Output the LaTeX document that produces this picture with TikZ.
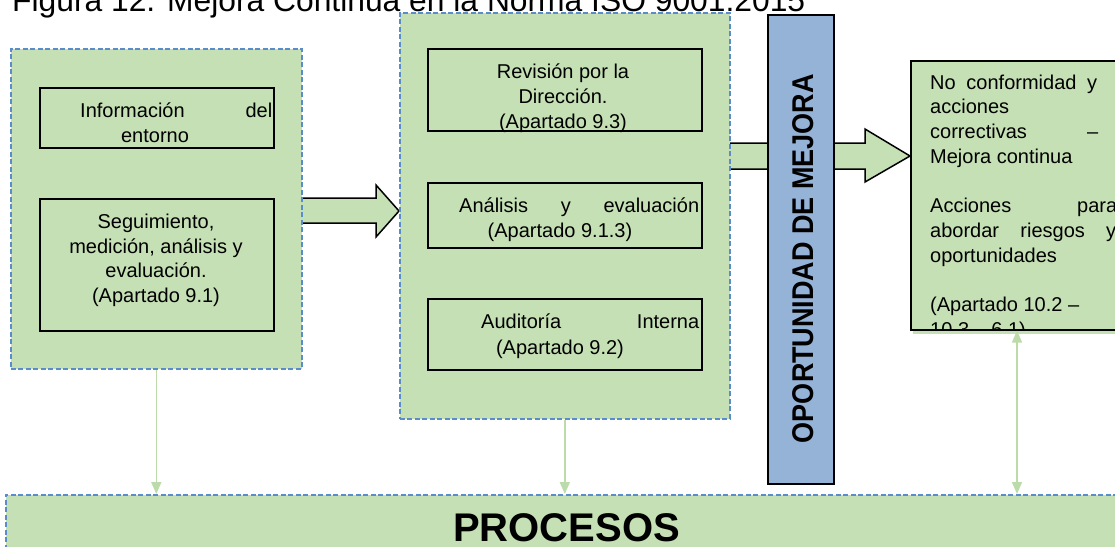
\documentclass[tikz,border=0pt]{standalone}
\usepackage{fontspec}
\usepackage{graphicx}
\setmainfont{Liberation Sans}
\usetikzlibrary{arrows.meta,calc}
\definecolor{gfill}{HTML}{C5E0B4}
\definecolor{dblue}{HTML}{5A8BCB}
\definecolor{bbar}{HTML}{95B3D7}
\definecolor{gline}{HTML}{BDDBAA}
\begin{document}
\begin{tikzpicture}[x=1pt,y=-1pt,
  outer/.style={draw=dblue, fill=gfill, line width=1.6pt, dash pattern=on 5pt off 2.5pt, inner sep=0, anchor=north west},
  inbox/.style={draw=black, line width=1.6pt, fill=gfill, inner sep=0, anchor=north west},
  txt/.style={inner sep=0, font=\fontsize{20}{24.6}\selectfont},
  bfill/.style={fill=gfill},
  bline/.style={draw=black, line width=1.5pt, line join=miter},
  garrow/.style={draw=gline, line width=1.6pt, -{Triangle[width=10pt,length=12pt]}},
  gdarrow/.style={draw=gline, line width=1.6pt, {Triangle[width=10pt,length=12pt]}-{Triangle[width=10pt,length=12pt]}}
]
\useasboundingbox (0,0) rectangle (1115,546);
\clip (0,0) rectangle (1115,546);

% title
\node[anchor=base west, inner sep=0, font=\fontsize{31.8}{36}\selectfont] (title) at (12,12) {Figura 12. Mejora Continua en la Norma ISO 9001:2015};

% coordinates for block arrows
\coordinate (Le) at (301,0);
\coordinate (Mw) at (399,0);
\coordinate (Me) at (729,0);
\coordinate (Rw) at (910,0);

% block arrow 1
\fill[bfill] (Le |- 0,198) -- (376,198) -- (376,185) -- (Mw |- 0,211) -- (376,237) -- (376,223) -- (Le |- 0,223) -- cycle;
\draw[bline] (Le |- 0,198) -- (376,198) -- (376,185) -- (Mw |- 0,211) -- (376,237) -- (376,223) -- (Le |- 0,223);
% block arrow 2
\fill[bfill] (Me |- 0,143) -- (865,143) -- (865,129) -- (Rw |- 0,156) -- (865,182) -- (865,169) -- (Me |- 0,169) -- cycle;
\draw[bline] (Me |- 0,143) -- (865,143) -- (865,129) -- (Rw |- 0,156) -- (865,182) -- (865,169) -- (Me |- 0,169);

% outer boxes
\node[outer, minimum width=291pt, minimum height=320pt] (L) at (10,48) {};
\node[outer, minimum width=330pt, minimum height=406pt] (M) at (399,12) {};
\node[outer, minimum width=1125pt, minimum height=70pt] (P) at (5,494) {};

% right box with shadow
\fill[gfill] (913,63) rectangle (1135,334);
\node[inbox, minimum width=225pt, minimum height=269pt] (R) at (910,60) {};

% inner boxes
\node[inbox, minimum width=234pt, minimum height=60pt] (I1) at (39,87) {};
\node[inbox, minimum width=234pt, minimum height=132pt] (I2) at (39,198) {};
\node[inbox, minimum width=274pt, minimum height=82pt] (M1) at (427,48) {};
\node[inbox, minimum width=274pt, minimum height=65pt] (M2) at (427,182) {};
\node[inbox, minimum width=274pt, minimum height=71pt] (M3) at (427,298) {};

% blue bar
\node[draw=black, line width=1.5pt, fill=bbar, inner sep=0, anchor=north west, minimum width=66pt, minimum height=469pt] (B) at (767,14) {};
\node[rotate=90, inner sep=0, font=\fontsize{30}{36}\selectfont\bfseries] (bt) at (803.5,258.5) {\scalebox{0.9}[1]{OPORTUNIDAD DE MEJORA}};

% texts
\node[txt, anchor=base west] (t1) at (80,117) {\makebox[192pt]{Información\hfill del}};
\node[txt, anchor=base] (t2) at (155,142) {entorno};
\node[txt, align=center] (t3) at (156,260.5) {Seguimiento,\\medición, análisis y\\evaluación.\\(Apartado 9.1)};
\node[txt, align=center] (t4) at (563,98.3) {Revisión por la\\Dirección.\\(Apartado 9.3)};
\node[txt, anchor=base west] (t5) at (459,212) {\makebox[240pt]{Análisis\hfill y\hfill evaluación}};
\node[txt, anchor=base] (t6) at (560,237) {(Apartado 9.1.3)};
\node[txt, anchor=base west] (t7) at (481,328) {\makebox[218pt]{Auditoría\hfill Interna}};
\node[txt, anchor=base] (t8) at (560,354) {(Apartado 9.2)};

\begin{scope}
\clip (R.north west) rectangle (R.south east);
\node[inner sep=0, anchor=north west, align=left, font=\fontsize{20}{24.7}\selectfont] (rt) at (930,74.5) {%
\makebox[167pt]{No\hfill conformidad\hfill y}\\
acciones\\
\makebox[168pt]{correctivas\hfill –}\\
Mejora continua\\[24.7pt]
\makebox[187pt]{Acciones\hfill para}\\
\makebox[186pt]{abordar\hfill riesgos\hfill y}\\
oportunidades\\[24.7pt]
(Apartado 10.2 –\\
10.3 – 6.1)};
\end{scope}

% PROCESOS
\node[inner sep=0, anchor=base, font=\fontsize{40}{48}\selectfont\bfseries] (pt) at (566.5,541.5) {PROCESOS};

% vertical arrows
\draw[garrow] (L.south) -- (L.south |- P.north);
\draw[garrow] (M.south) -- (M.south |- P.north);
\coordinate (rs) at ($(R.south west)+(107,0)$);
\draw[gdarrow] (rs) -- (rs |- P.north);
\end{tikzpicture}
\end{document}
